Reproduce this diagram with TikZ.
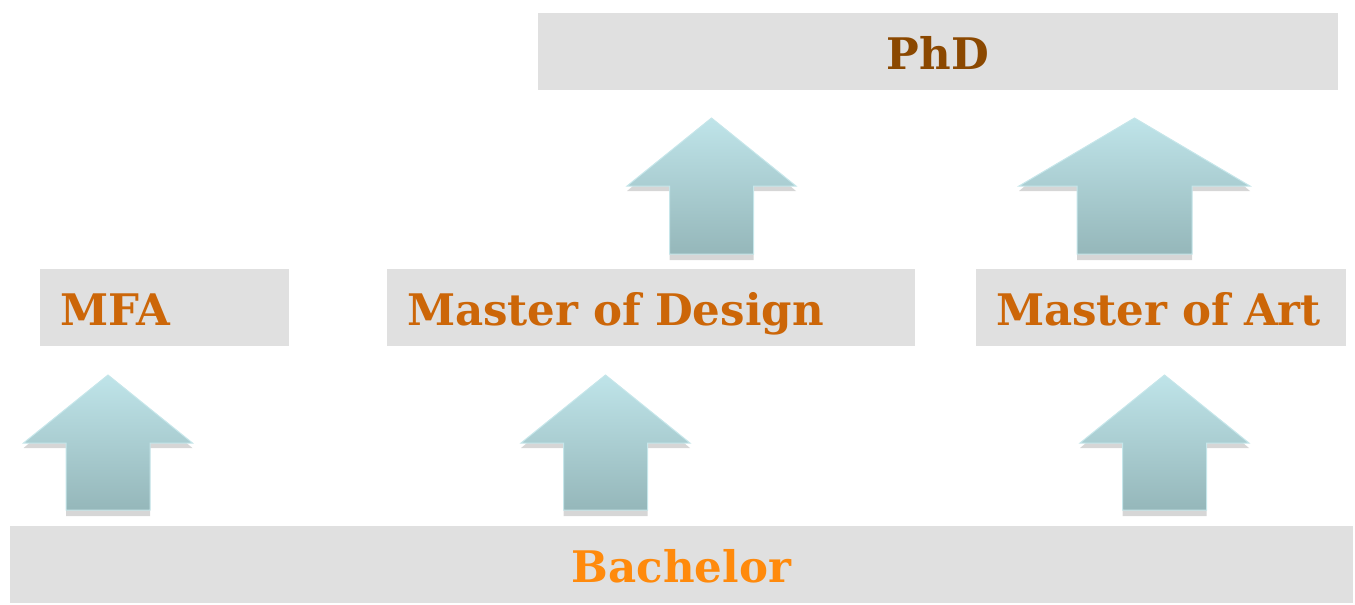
\documentclass[tikz,border=0pt]{standalone}
\usepackage{fontspec}
\setmainfont{DejaVu Serif}
\definecolor{boxgray}{HTML}{E0E0E0}
\definecolor{phdbrown}{HTML}{8B4800}
\definecolor{masterorange}{HTML}{CC6608}
\definecolor{bachorange}{HTML}{FF8A0C}
\definecolor{arrtop}{HTML}{BFE4E9}
\definecolor{arrbot}{HTML}{95B7BA}
\definecolor{arredge}{HTML}{C6E6EA}
\definecolor{arrshadow}{HTML}{D6D6D6}
\tikzstyle{lvl}=[fill=boxgray,inner sep=0pt,minimum height=77pt,font=\fontsize{43.5}{46}\selectfont\bfseries,text height=36pt,text depth=0pt]
\tikzstyle{lvlleft}=[lvl,inner xsep=20pt,align=left]
\tikzstyle{uparrow}=[top color=arrtop,bottom color=arrbot,draw=arredge,line width=1pt]
\tikzstyle{upshadow}=[fill=arrshadow]
\begin{document}
\begin{tikzpicture}[x=1pt,y=-1pt]
\useasboundingbox (0,0) rectangle (1355,605);
% levels
\node[lvl,minimum width=800pt,text=phdbrown] (phd) at (938,51) {PhD};
\node[lvlleft,text width=209pt,text=masterorange] (mfa) at (164.5,307.5) {MFA};
\node[lvlleft,text width=488pt,text=masterorange] (design) at (651,307.5) {Master of Design};
\node[lvlleft,text width=330pt,text=masterorange] (art) at (1161,307.5) {Master of Art};
\node[lvl,minimum width=1343pt,text=bachorange] (bachelor) at (681.5,564.5) {Bachelor};
% block arrows: centre / tip / head base / bottom / head half width / shaft half width
\foreach \cx/\ytip/\ybase/\ybot/\hw/\sw in {108/375/443/510/84.5/42, 605.5/375/443/510/84.5/42, 1164.5/375/443/510/84.5/42, 711.5/118/186/254/84.5/42, 1134.5/118/186/254/115.5/57.5}{
  \fill[upshadow] (\cx-\hw,\ybase+5) -- (\cx-\sw,\ybase+5) -- (\cx-\sw,\ybot+6) -- (\cx+\sw,\ybot+6) -- (\cx+\sw,\ybase+5) -- (\cx+\hw,\ybase+5) -- (\cx+\hw-6,\ybase) -- (\cx-\hw+6,\ybase) -- cycle;
  \path[uparrow] (\cx,\ytip) -- (\cx+\hw,\ybase) -- (\cx+\sw,\ybase) -- (\cx+\sw,\ybot) -- (\cx-\sw,\ybot) -- (\cx-\sw,\ybase) -- (\cx-\hw,\ybase) -- cycle;
}
\end{tikzpicture}
\end{document}
